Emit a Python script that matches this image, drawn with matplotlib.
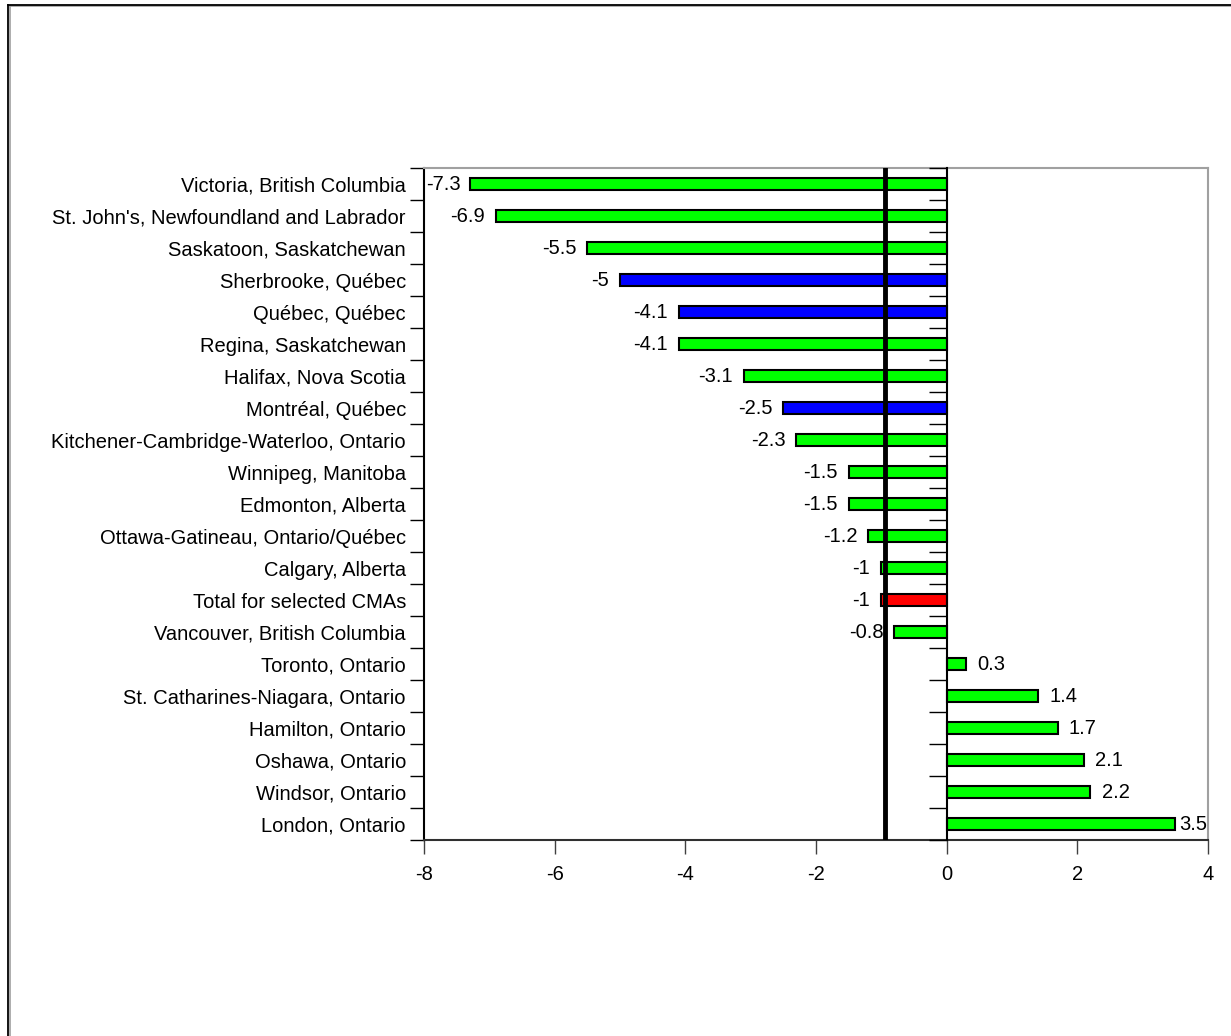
import matplotlib
matplotlib.use("Agg")
import matplotlib.pyplot as plt
from matplotlib.lines import Line2D

plt.rcParams['font.family'] = ['Liberation Sans', 'DejaVu Sans']

categories = [
    "Victoria, British Columbia",
    "St. John's, Newfoundland and Labrador",
    "Saskatoon, Saskatchewan",
    "Sherbrooke, Québec",
    "Québec, Québec",
    "Regina, Saskatchewan",
    "Halifax, Nova Scotia",
    "Montréal, Québec",
    "Kitchener-Cambridge-Waterloo, Ontario",
    "Winnipeg, Manitoba",
    "Edmonton, Alberta",
    "Ottawa-Gatineau, Ontario/Québec",
    "Calgary, Alberta",
    "Total for selected CMAs",
    "Vancouver, British Columbia",
    "Toronto, Ontario",
    "St. Catharines-Niagara, Ontario",
    "Hamilton, Ontario",
    "Oshawa, Ontario",
    "Windsor, Ontario",
    "London, Ontario",
]
values = [-7.3, -6.9, -5.5, -5, -4.1, -4.1, -3.1, -2.5, -2.3, -1.5, -1.5,
          -1.2, -1, -1, -0.8, 0.3, 1.4, 1.7, 2.1, 2.2, 3.5]
groups = ["other", "other", "other", "quebec", "quebec", "other", "other",
          "quebec", "other", "other", "other", "other", "other", "total",
          "other", "other", "other", "other", "other", "other", "other"]
group_colors = {"other": "#00FF00", "quebec": "#0000FF", "total": "#FF0000"}
reference_line = -0.95
xticks = [-8, -6, -4, -2, 0, 2, 4]

FS = 14.5
W, H = 1231, 1036
fig = plt.figure(figsize=(W / 100, H / 100), dpi=100)
ax = fig.add_axes([424 / W, 1 - 840 / H, (1208 - 424) / W, (840 - 168) / H])

n = len(categories)
ypos = list(range(n))
colors = [group_colors[g] for g in groups]
ax.barh(ypos, values, height=0.4, color=colors, edgecolor='black',
        linewidth=1.5, zorder=3)
ax.set_ylim(n - 0.5, -0.5)
ax.set_xlim(-8, 4)

# y axis: labels at centers, ticks at category boundaries
ax.set_yticks([i - 0.5 for i in range(n + 1)])
ax.set_yticklabels([])
ax.set_yticks(ypos, minor=True)
ax.set_yticklabels(categories, minor=True, fontsize=FS)
ax.tick_params(axis='y', which='minor', length=0, pad=13)
ax.tick_params(axis='y', which='major', length=10, width=1, direction='out')

ax.set_xticks(xticks)
ax.set_xticklabels([str(t) for t in xticks], fontsize=FS)
ax.tick_params(axis='x', length=10, width=1, direction='out', pad=8,
               color='#404040')

for s in ['top', 'right']:
    ax.spines[s].set_color('#A0A0A0')
    ax.spines[s].set_linewidth(1.5)
for s in ['left', 'bottom']:
    ax.spines[s].set_color('black')
    ax.spines[s].set_linewidth(1.5)
ax.spines['bottom'].set_color('#303030')

# zero line with ticks at the category boundaries
ax2 = ax.twinx()
ax2.set_ylim(ax.get_ylim())
for s in ['top', 'right', 'bottom']:
    ax2.spines[s].set_visible(False)
ax2.spines['left'].set_position(('data', 0))
ax2.spines['left'].set_color('black')
ax2.spines['left'].set_linewidth(1.5)
ax2.yaxis.set_ticks_position('left')
ax2.set_yticks([i - 0.5 for i in range(n + 1)])
ax2.set_yticklabels([])
ax2.tick_params(axis='y', length=13, width=1, direction='out')
ax2.set_zorder(ax.get_zorder() + 1)
ax2.patch.set_visible(False)

# reference (total) line
ax.axvline(reference_line, color='black', linewidth=3.5, zorder=5)

# value labels
fig.canvas.draw()
renderer = fig.canvas.get_renderer()
axbox = ax.get_window_extent(renderer)
texts = []
for y, v in zip(ypos, values):
    label = f"{v:g}"
    t = ax.annotate(label, xy=(v, y), xytext=(-8 if v < 0 else 8, 0),
                    textcoords='offset points',
                    ha='right' if v < 0 else 'left', va='center',
                    fontsize=FS, zorder=6)
    texts.append(t)
fig.canvas.draw()
for t, v, y in zip(texts, values, ypos):
    bb = t.get_window_extent(renderer)
    shift = 0
    if bb.x0 < axbox.x0 + 2:
        shift = (axbox.x0 + 2) - bb.x0
    elif bb.x1 > axbox.x1 - 1:
        shift = (axbox.x1 - 1) - bb.x1
    if shift:
        dx, dy = t.xyann
        t.xyann = (dx + shift * 72 / fig.dpi, dy)

# outer frame
fig.add_artist(Line2D([10 / W, 10 / W], [0, 1 - 6 / H], transform=fig.transFigure,
                      color='#A0A0A0', linewidth=1.2))
fig.add_artist(Line2D([10 / W, 1], [1 - 6 / H, 1 - 6 / H], transform=fig.transFigure,
                      color='#A0A0A0', linewidth=1.2))
fig.add_artist(Line2D([8 / W, 8 / W], [0, 1 - 5 / H], transform=fig.transFigure,
                      color='black', linewidth=1.3))
fig.add_artist(Line2D([8 / W, 1], [1 - 5 / H, 1 - 5 / H], transform=fig.transFigure,
                      color='black', linewidth=1.3))

fig.savefig('out.png', dpi=100, facecolor='white')
